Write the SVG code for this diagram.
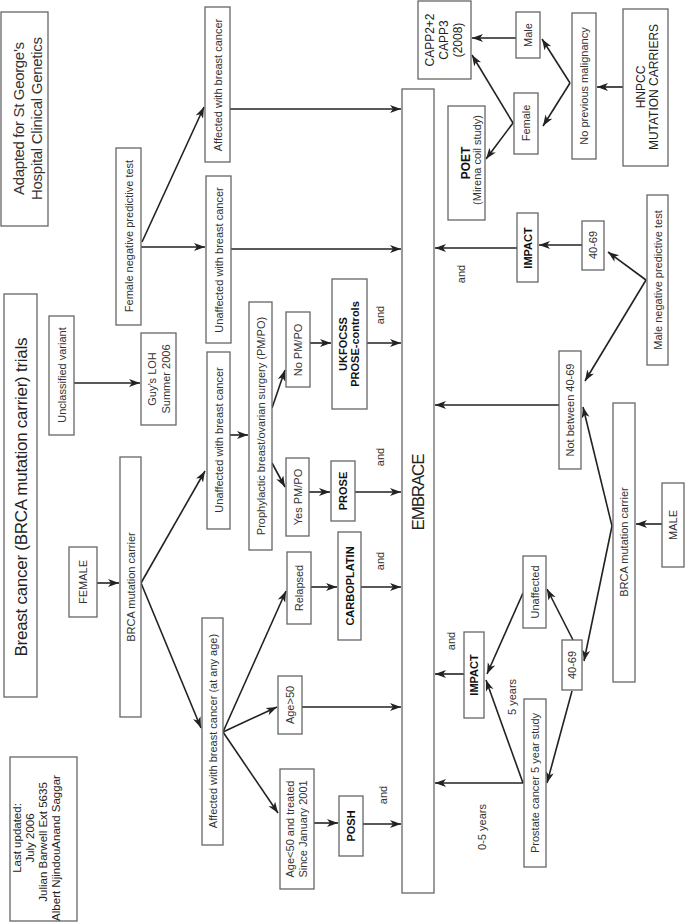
<svg xmlns="http://www.w3.org/2000/svg" width="685" height="923" viewBox="0 0 685 923">
<style>
.bx{fill:#fff;stroke:#666;stroke-width:1.3}
.t{font-family:"Liberation Sans",Arial,sans-serif;font-size:11px;fill:#333;text-anchor:middle}
.b{font-weight:bold;fill:#111}
.c{stroke:#222;stroke-width:1.6;fill:none;marker-end:url(#ah)}
</style>
<defs>
<marker id="ah" markerUnits="userSpaceOnUse" markerWidth="12" markerHeight="9" refX="11" refY="4" orient="auto">
<path d="M0,0 L11,4 L0,8 L3,4 Z" fill="#222"/>
</marker>
</defs>
<rect width="685" height="923" fill="#fff"/>

<g id="connectors">
<path class="c" d="M141,247 L205,247"/>
<path class="c" d="M142,242 L204,107"/>
<path class="c" d="M230,109 L401,109"/>
<path class="c" d="M231,249 L401,249"/>
<path class="c" d="M74,383 L140,383"/>
<path class="c" d="M97,583 L119,583"/>
<path class="c" d="M141,583 L205,471"/>
<path class="c" d="M141,583 L201,728"/>
<path class="c" d="M230,435 L248,435"/>
<path class="c" d="M272,408 L285,370"/>
<path class="c" d="M272,463 L285,487"/>
<path class="c" d="M310,343 L331,343"/>
<path class="c" d="M367,343 L401,343"/>
<path class="c" d="M309,492 L330,492"/>
<path class="c" d="M355,492 L401,492"/>
<path class="c" d="M223,732 L286,591"/>
<path class="c" d="M223,732 L277,707"/>
<path class="c" d="M223,732 L278,813"/>
<path class="c" d="M311,587 L337,587"/>
<path class="c" d="M361,587 L401,587"/>
<path class="c" d="M302,707 L401,707"/>
<path class="c" d="M314,823 L338,823"/>
<path class="c" d="M363,824 L401,824"/>
<path class="c" d="M517,248 L435,248"/>
<path class="c" d="M582,245 L539,245"/>
<path class="c" d="M646,280 L608,252"/>
<path class="c" d="M646,280 L585,381"/>
<path class="c" d="M559,405 L435,405"/>
<path class="c" d="M662,524 L636,524"/>
<path class="c" d="M612,526 L583,407"/>
<path class="c" d="M612,526 L584,661"/>
<path class="c" d="M573,640 L547,589"/>
<path class="c" d="M572,691 L547,783"/>
<path class="c" d="M523,593 L487,674"/>
<path class="c" d="M523,783 L486,680"/>
<path class="c" d="M523,783 L435,783"/>
<path class="c" d="M464,674 L435,674"/>
<path class="c" d="M623,87 L597,87"/>
<path class="c" d="M570,83 L542,39"/>
<path class="c" d="M570,83 L543,126"/>
<path class="c" d="M516,38 L472,38"/>
<path class="c" d="M513,123 L472,55"/>
<path class="c" d="M513,123 L486,159"/>
</g>

<g id="adapted"><rect class="bx" x="1" y="12" width="47" height="214"/>
<text class="t" style="font-size:15px" transform="translate(24,118.5) rotate(-90)" textLength="153">Adapted for St George’s</text>
<text class="t" style="font-size:15px" transform="translate(42,118.5) rotate(-90)" textLength="163">Hospital Clinical Genetics</text></g>

<g id="title"><rect class="bx" x="4" y="294" width="33" height="403"/>
<text class="t" style="font-size:17px;fill:#222" transform="translate(27,497) rotate(-90)" textLength="319">Breast cancer (BRCA mutation carrier) trials</text></g>

<g id="lastupdated"><rect class="bx" x="10" y="757" width="67" height="164"/>
<text class="t" style="font-size:11.5px;fill:#222" transform="translate(21,838) rotate(-90)">Last updated:</text>
<text class="t" style="font-size:11.5px;fill:#222" transform="translate(34,838) rotate(-90)">July 2006</text>
<text class="t" style="font-size:11.5px;fill:#222" transform="translate(47,842) rotate(-90)">Julian Barwell Ext 5635</text>
<text class="t" style="font-size:11.5px;fill:#222" transform="translate(60,848) rotate(-90)">Albert NjindouAnand Saggar</text></g>

<g id="unclassified"><rect class="bx" x="49" y="316" width="25" height="119"/>
<text class="t" transform="translate(65.5,375) rotate(-90)">Unclassified variant</text></g>

<g id="guys"><rect class="bx" x="141" y="333" width="35" height="92"/>
<text class="t" transform="translate(156,379) rotate(-90)">Guy’s LOH</text>
<text class="t" transform="translate(170,379) rotate(-90)">Summer 2006</text></g>

<g id="female"><rect class="bx" x="69" y="547" width="28" height="70"/>
<text class="t" transform="translate(87,582) rotate(-90)">FEMALE</text></g>

<g id="brcaf"><rect class="bx" x="120" y="457" width="21" height="260"/>
<text class="t" transform="translate(134.5,587) rotate(-90)">BRCA mutation carrier</text></g>

<g id="femaleneg"><rect class="bx" x="116" y="148" width="25" height="177"/>
<text class="t" transform="translate(132.5,236) rotate(-90)">Female negative predictive test</text></g>

<g id="affectedtop"><rect class="bx" x="205" y="7" width="25" height="155"/>
<text class="t" transform="translate(221.5,85) rotate(-90)">Affected with breast cancer</text></g>

<g id="unaffectedtop"><rect class="bx" x="206" y="176" width="25" height="167"/>
<text class="t" transform="translate(222.5,260) rotate(-90)">Unaffected with breast cancer</text></g>

<g id="unaffectedmid"><rect class="bx" x="207" y="352" width="23" height="177"/>
<text class="t" transform="translate(222.5,440) rotate(-90)">Unaffected with breast cancer</text></g>

<g id="affectedany"><rect class="bx" x="202" y="618" width="21" height="227"/>
<text class="t" transform="translate(216.5,731) rotate(-90)">Affected with breast cancer (at any age)</text></g>

<g id="prophylactic"><rect class="bx" x="249" y="302" width="23" height="248"/>
<text class="t" transform="translate(264.5,426) rotate(-90)">Prophylactic breast/ovarian surgery (PM/PO)</text></g>

<g id="nopm"><rect class="bx" x="286" y="312" width="24" height="75"/>
<text class="t" transform="translate(302,350) rotate(-90)">No PM/PO</text></g>

<g id="yespm"><rect class="bx" x="286" y="458" width="23" height="78"/>
<text class="t" transform="translate(301.5,497) rotate(-90)">Yes PM/PO</text></g>

<g id="ukfocss"><rect class="bx" x="332" y="279" width="35" height="130"/>
<text class="t b" transform="translate(347,344) rotate(-90)">UKFOCSS</text>
<text class="t b" transform="translate(359,344) rotate(-90)">PROSE-controls</text></g>

<g id="prose"><rect class="bx" x="331" y="461" width="24" height="60"/>
<text class="t b" transform="translate(347,491) rotate(-90)">PROSE</text></g>

<g id="relapsed"><rect class="bx" x="287" y="552" width="24" height="72"/>
<text class="t" transform="translate(303,588) rotate(-90)">Relapsed</text></g>

<g id="carboplatin"><rect class="bx" x="338" y="532" width="23" height="108"/>
<text class="t b" transform="translate(353.5,586) rotate(-90)">CARBOPLATIN</text></g>

<g id="agegt50"><rect class="bx" x="278" y="676" width="24" height="58"/>
<text class="t" transform="translate(294,705) rotate(-90)">Age&gt;50</text></g>

<g id="agelt50"><rect class="bx" x="280" y="769" width="34" height="120"/>
<text class="t" transform="translate(294,829) rotate(-90)">Age&lt;50 and treated</text>
<text class="t" transform="translate(307,829) rotate(-90)">Since January 2001</text></g>

<g id="posh"><rect class="bx" x="339" y="796" width="24" height="60"/>
<text class="t b" transform="translate(355,826) rotate(-90)">POSH</text></g>

<g id="embrace"><rect class="bx" x="402" y="89" width="32" height="804"/>
<text class="t" style="font-size:17px;fill:#222" transform="translate(424,492) rotate(-90)" textLength="77">EMBRACE</text></g>

<g id="capp"><rect class="bx" x="418" y="1" width="53" height="78"/>
<text class="t" style="font-size:12px;fill:#222" transform="translate(434,40) rotate(-90)">CAPP2+2</text>
<text class="t" style="font-size:12px;fill:#222" transform="translate(448,40) rotate(-90)">CAPP3</text>
<text class="t" style="font-size:12px;fill:#222" transform="translate(462,40) rotate(-90)">(2008)</text></g>

<g id="poet"><rect class="bx" x="448" y="106" width="37" height="114"/>
<text class="t b" style="font-size:12px" transform="translate(470,163) rotate(-90)">POET</text>
<text class="t" transform="translate(481,160) rotate(-90)">(Mirena coil study)</text></g>

<g id="male"><rect class="bx" x="516" y="12" width="24" height="46"/>
<text class="t" transform="translate(532,35) rotate(-90)">Male</text></g>

<g id="femalehn"><rect class="bx" x="514" y="93" width="24" height="61"/>
<text class="t" transform="translate(530,123) rotate(-90)">Female</text></g>

<g id="noprev"><rect class="bx" x="572" y="13" width="24" height="146"/>
<text class="t" transform="translate(588,86) rotate(-90)">No previous malignancy</text></g>

<g id="hnpcc"><rect class="bx" x="623" y="9" width="45" height="157"/>
<text class="t" style="font-size:12px;fill:#222" transform="translate(645,87) rotate(-90)">HNPCC</text>
<text class="t" style="font-size:12px;fill:#222" transform="translate(658,87) rotate(-90)">MUTATION CARRIERS</text></g>

<g id="impacttop"><rect class="bx" x="517" y="213" width="21" height="69"/>
<text class="t b" transform="translate(531.5,248) rotate(-90)">IMPACT</text></g>

<g id="age4069top"><rect class="bx" x="582" y="221" width="22" height="49"/>
<text class="t" transform="translate(597,245) rotate(-90)">40-69</text></g>

<g id="maleneg"><rect class="bx" x="647" y="195" width="21" height="170"/>
<text class="t" transform="translate(661.5,280) rotate(-90)">Male negative predictive test</text></g>

<g id="notbetween"><rect class="bx" x="559" y="351" width="22" height="118"/>
<text class="t" transform="translate(574,410) rotate(-90)">Not between 40-69</text></g>

<g id="brcam"><rect class="bx" x="613" y="403" width="22" height="279"/>
<text class="t" transform="translate(628,542) rotate(-90)">BRCA mutation carrier</text></g>

<g id="malebox"><rect class="bx" x="662" y="483" width="22" height="84"/>
<text class="t" transform="translate(677,525) rotate(-90)">MALE</text></g>

<g id="unaffectedlow"><rect class="bx" x="523" y="556" width="23" height="72"/>
<text class="t" transform="translate(538.5,592) rotate(-90)">Unaffected</text></g>

<g id="age4069low"><rect class="bx" x="562" y="640" width="20" height="50"/>
<text class="t" transform="translate(576,665) rotate(-90)">40-69</text></g>

<g id="prostate"><rect class="bx" x="524" y="699" width="22" height="168"/>
<text class="t" transform="translate(539,783) rotate(-90)">Prostate cancer 5 year study</text></g>

<g id="impactlow"><rect class="bx" x="464" y="632" width="20" height="86"/>
<text class="t b" transform="translate(478,675) rotate(-90)">IMPACT</text></g>

<g id="labels">
<text class="t" transform="translate(465,274) rotate(-90)">and</text>
<text class="t" transform="translate(384,315) rotate(-90)">and</text>
<text class="t" transform="translate(384,457) rotate(-90)">and</text>
<text class="t" transform="translate(384,561) rotate(-90)">and</text>
<text class="t" transform="translate(455,641) rotate(-90)">and</text>
<text class="t" transform="translate(387,795) rotate(-90)">and</text>
<text class="t" transform="translate(516,697) rotate(-90)">5 years</text>
<text class="t" transform="translate(486,827) rotate(-90)">0-5 years</text>
</g>
</svg>
